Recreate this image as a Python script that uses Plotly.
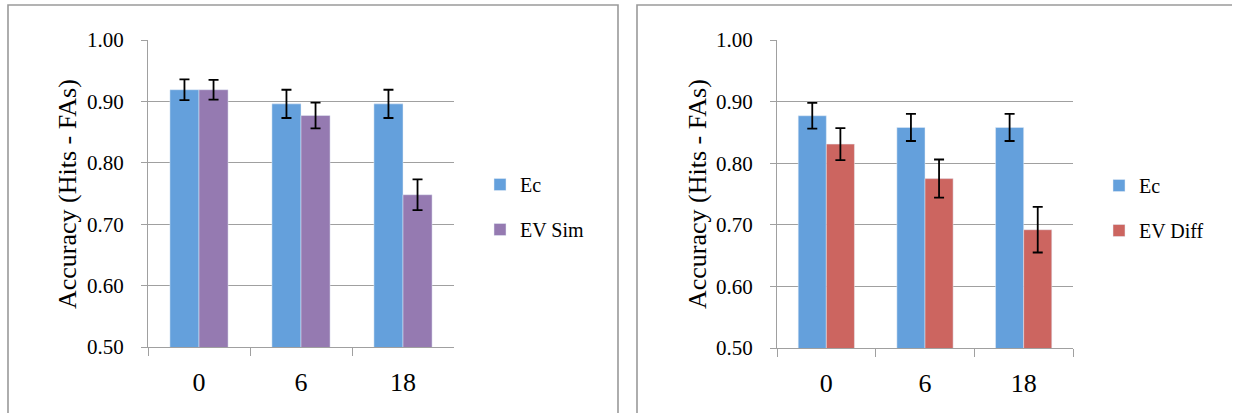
import plotly.graph_objects as go

W, H = 1233, 413

categories = ["0", "6", "18"]

# Left panel
ec_left = [0.919, 0.896, 0.896]
ec_left_err = [0.017, 0.023, 0.023]
evsim = [0.919, 0.877, 0.748]
evsim_err = [0.016, 0.021, 0.025]

# Right panel
ec_right = [0.877, 0.858, 0.858]
ec_right_err = [0.021, 0.022, 0.022]
evdiff = [0.831, 0.775, 0.692]
evdiff_err = [0.026, 0.031, 0.037]

BLUE = "#64A0DC"
PURPLE = "#957AB1"
RED = "#CC6560"
GRID = "#A0A0A0"
FONT = "Liberation Serif"


def px(x):
    return x / W


def py(y):
    return (H - y) / H


def err(vals):
    return dict(type="data", array=vals, visible=True, color="black",
                thickness=1.8, width=5)


fig = go.Figure()
fig.add_trace(go.Bar(x=categories, y=ec_left, name="Ec", marker_color=BLUE,
                     error_y=err(ec_left_err), xaxis="x", yaxis="y",
                     legend="legend", legendgroup="a"))
fig.add_trace(go.Bar(x=categories, y=evsim, name="EV Sim", marker_color=PURPLE,
                     error_y=err(evsim_err), xaxis="x", yaxis="y",
                     legend="legend", legendgroup="b"))
fig.add_trace(go.Bar(x=categories, y=ec_right, name="Ec", marker_color=BLUE,
                     error_y=err(ec_right_err), xaxis="x2", yaxis="y2",
                     legend="legend2", legendgroup="c"))
fig.add_trace(go.Bar(x=categories, y=evdiff, name="EV Diff", marker_color=RED,
                     error_y=err(evdiff_err), xaxis="x2", yaxis="y2",
                     legend="legend2", legendgroup="d"))

xcommon = dict(type="category", tickson="boundaries", ticks="outside",
               ticklen=8, tickcolor=GRID, showline=True, linecolor=GRID,
               linewidth=1, showgrid=False,
               tickfont=dict(family=FONT, size=26, color="black"),
               ticklabelstandoff=12, automargin=False, fixedrange=True)
ycommon = dict(range=[0.5, 1.0], dtick=0.1, tick0=0.5, tickformat=".2f",
               showgrid=True, gridcolor=GRID, gridwidth=1, showline=True,
               linecolor=GRID, linewidth=1, ticks="outside", ticklen=6,
               tickcolor=GRID, tickfont=dict(family=FONT, size=21, color="black"),
               ticklabelstandoff=13, zeroline=False, automargin=False,
               fixedrange=True)

legcommon = dict(font=dict(family=FONT, size=20, color="black"),
                 tracegroupgap=16, bgcolor="rgba(0,0,0,0)", xanchor="left",
                 yanchor="top", traceorder="grouped", itemwidth=30)

fig.update_layout(
    width=W, height=H,
    margin=dict(l=0, r=0, t=0, b=0, pad=0, autoexpand=False),
    paper_bgcolor="white", plot_bgcolor="white",
    barmode="group", bargap=0.43, bargroupgap=0,
    xaxis=dict(domain=[px(148), px(454)], anchor="y", **xcommon),
    yaxis=dict(domain=[py(347), py(40)], anchor="x", **ycommon),
    xaxis2=dict(domain=[px(777), px(1073)], anchor="y2", **xcommon),
    yaxis2=dict(domain=[py(348), py(40)], anchor="x2", **ycommon),
    legend=dict(x=px(480), y=py(165), **legcommon),
    legend2=dict(x=px(1099), y=py(166), **legcommon),
    annotations=[
        dict(text="Accuracy (Hits - FAs)", x=px(67), y=py(194), xref="paper",
             yref="paper", textangle=-90, showarrow=False,
             xanchor="center", yanchor="middle",
             font=dict(family=FONT, size=26, color="black")),
        dict(text="Accuracy (Hits - FAs)", x=px(697), y=py(194), xref="paper",
             yref="paper", textangle=-90, showarrow=False,
             xanchor="center", yanchor="middle",
             font=dict(family=FONT, size=26, color="black")),
    ],
    shapes=[
        dict(type="path", xref="paper", yref="paper",
             path=f"M {px(8)},-0.1 L {px(8)},{py(5)} L {px(618)},{py(5)} L {px(618)},-0.1",
             line=dict(color="#9A9A9A", width=1.6)),
        dict(type="path", xref="paper", yref="paper",
             path=f"M {px(637)},-0.1 L {px(637)},{py(5)} L {px(1232)},{py(5)}",
             line=dict(color="#9A9A9A", width=1.6)),
    ],
    showlegend=True,
)

fig.write_html("out.html",
               config={"displayModeBar": False},
               post_script="document.body.style.margin='0px';")
